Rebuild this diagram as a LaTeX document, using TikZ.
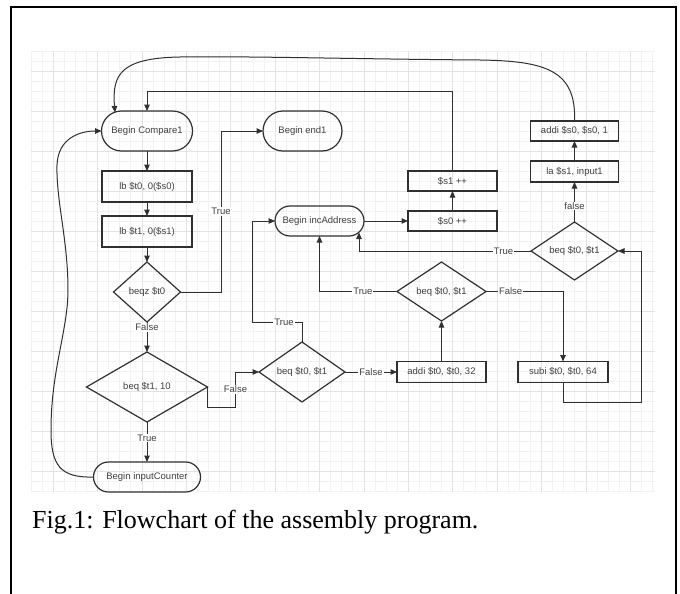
\documentclass[tikz,border=0pt]{standalone}
\usepackage{fontspec}
\newfontfamily\flowfont{Liberation Sans}
\newfontfamily\capfont{Liberation Serif}
\usetikzlibrary{arrows.meta,shapes.geometric}
\definecolor{ink}{HTML}{303030}
\definecolor{txt}{HTML}{404040}
\definecolor{gridminor}{HTML}{F2F2F2}
\definecolor{gridmajor}{HTML}{E3E3E3}

\begin{document}
\begin{tikzpicture}[x=1pt,y=-1pt,
  base/.style={draw=ink, line width=1.2pt, font=\flowfont\fontsize{9.5}{11}\selectfont,
               text=txt, inner sep=1pt, outer sep=0pt},
  term/.style n args={3}{base, rectangle, rounded corners=#3, minimum width=#1, minimum height=#2},
  box/.style 2 args={base, rectangle, minimum width=#1, minimum height=#2},
  dia/.style 2 args={base, diamond, aspect=1.5, minimum width=#1, minimum height=#2},
  arr/.style={draw=ink, line width=1pt, -{Triangle[length=6.5pt,width=5.5pt]}},
  lbl/.style={font=\flowfont\fontsize{9.5}{11}\selectfont, text=txt, fill=white, inner sep=1pt},
  frame/.style={draw=black, line width=2pt}
]
\useasboundingbox (0,0) rectangle (680,594);

% background grid
\foreach \i in {0,...,56}
  \draw[gridminor, line width=0.8pt] ({30.9+11.1*\i},51) -- ({30.9+11.1*\i},492);
\foreach \j in {0,...,44}
  \draw[gridminor, line width=0.8pt] (31,{51+10*\j}) -- (655,{51+10*\j});
\foreach \i in {2,6,...,54}
  \draw[gridmajor, line width=0.8pt] ({30.9+11.1*\i},51) -- ({30.9+11.1*\i},492);
\foreach \j in {2,6,...,42}
  \draw[gridmajor, line width=0.8pt] (31,{51+10*\j}) -- (655,{51+10*\j});

% outer frame (open at the bottom)
\draw[frame] (11,594) -- (11,7) -- (675.5,7) -- (675.5,594);

% left column
\node[term={91}{40}{20pt}] (c1) at (147,131) {Begin Compare1};
\node[term={79}{40}{20pt}] (e1) at (302.5,131) {Begin end1};
\node[box={90}{31}] (lb0) at (147,186.5) {lb \$t0, 0(\$s0)};
\node[box={90}{31}] (lb1) at (147,231.5) {lb \$t1, 0(\$s1)};
\node[dia={67}{60}] (dz) at (147,292) {beqz \$t0};
\node[dia={121}{70}] (d1) at (147,387) {beq \$t1, 10};
\node[term={107}{30}{15pt}] (ic) at (147,477) {Begin inputCounter};

% middle and right
\node[dia={86}{60}] (d2) at (302,372) {beq \$t0, \$t1};
\node[term={89}{30}{15pt}] (ia) at (319.5,221) {Begin incAddress};
\node[box={89}{21}] (a32) at (441.5,372) {addi \$t0, \$t0, 32};
\node[dia={89}{59}] (d3) at (441.5,291.5) {beq \$t0, \$t1};
\node[box={90}{21}] (s64) at (563,372) {subi \$t0, \$t0, 64};
\node[dia={87}{58}] (d4) at (574.5,251) {beq \$t0, \$t1};
\node[box={88}{21}] (la) at (574.5,171.5) {la \$s1, input1};
\node[box={88}{20}] (a1) at (574.5,131) {addi \$s0, \$s0, 1};
\node[box={89}{20}] (s0) at (452.5,221) {\$s0 ++};
\node[box={89}{20}] (s1) at (452.5,181) {\$s1 ++};

\coordinate (c1T) at (115,112.5);
\coordinate (iaR) at (359,232.5);

% connectors
\draw[arr] (c1.south) -- (lb0.north);
\draw[arr] (lb0.south) -- (lb1.north);
\draw[arr] (lb1.south) -- (dz.north);
\draw[arr] (dz.east) -- (221,292) -- node[lbl]{True} (221,131) -- (e1.west);
\draw[arr] (dz.south) -- node[lbl,pos=0.17]{False} (d1.north);
\draw[arr] (d1.south) -- node[lbl,pos=0.4]{True} (ic.north);
\draw[arr] (d1.east) -- ++(0,20) -- ++(28,0) -- node[lbl]{False} ++(0,-35) -- (d2.west);
\draw[arr] (d2.north) -- ++(0,-20) -- node[lbl,pos=0.36]{True} ++(-50,0) |- (ia.west);
\draw[arr] (d2.east) -- node[lbl]{False} (a32.west);
\draw[arr] (a32.north) -- (d3.south);
\draw[arr] (d3.west) -- node[lbl,pos=0.44]{True} (ia.south |- d3.west) -- (ia.south);
\draw[arr] (d3.east) -- node[lbl,pos=0.32]{False} (s64.north |- d3.east) -- (s64.north);
\draw[arr] (s64.south) -- ++(0,20) -- ++(78,0) |- (d4.east);
\draw[arr] (d4.west) -- node[lbl,pos=0.16]{True} (iaR |- d4.west) -- (iaR);
\draw[arr] (d4.north) -- node[lbl,pos=0.4]{false} (la.south);
\draw[arr] (la.north) -- (a1.south);
\draw[arr] (a1.north) .. controls (576.5,70) and (545,61) .. (480,60)
                      .. controls (350,59) and (250,56) .. (180,57)
                      .. controls (120,58) and (112,75) .. (c1T);
\draw[arr] (s1.north) -- ++(0,-80) -| (c1.north);
\draw[arr] (ia.east) -- (s0.west);
\draw[arr] (s0.north) -- (s1.south);
\draw[arr] (ic.west) .. controls (60,478) and (51,465) .. (51,430)
                     .. controls (51,370) and (68,330) .. (68,290)
                     .. controls (68,240) and (56,200) .. (57,165)
                     .. controls (58,138) and (80,131) .. (c1.west);

% caption
\node[font=\capfont\fontsize{26}{30}\selectfont, anchor=base west, inner sep=0pt]
  (cap) at (32,528) {Fig.1: Flowchart of the assembly program.};
\end{tikzpicture}
\end{document}
